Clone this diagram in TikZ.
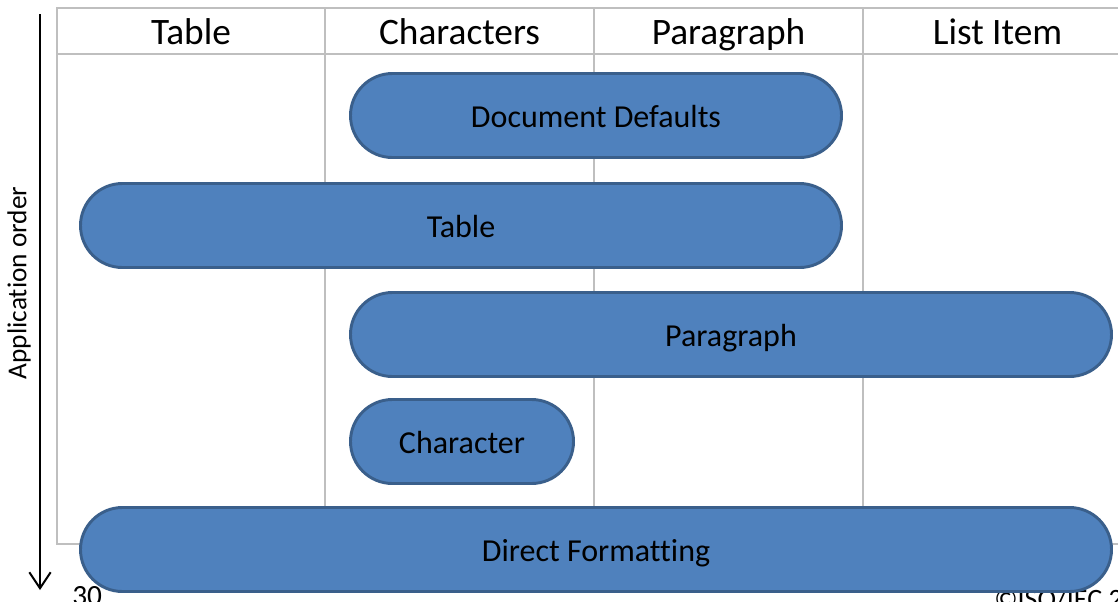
\documentclass[tikz,border=0pt]{standalone}
\usepackage{fontspec}
\setmainfont{Carlito}[Ligatures=NoCommon]
\usetikzlibrary{arrows.meta, positioning}
\definecolor{pillblue}{HTML}{4F81BD}
\definecolor{pilledge}{HTML}{3A5F8B}
\definecolor{gridgray}{HTML}{BFBFBF}

\begin{document}
\begin{tikzpicture}[x=0.75pt, y=-0.75pt,
    pill/.style={draw=pilledge, fill=pillblue, line width=2.2pt, rounded corners=31.4pt,
        minimum height=63pt, inner sep=0pt, text height=18.7pt, text depth=0pt,
        font=\fontsize{24}{28}\selectfont},
    colhead/.style={anchor=base, inner sep=0pt, font=\fontsize{28}{32}\selectfont},
    footnote/.style={anchor=base west, inner sep=0pt, font=\fontsize{21}{24}\selectfont},
    gridline/.style={gridgray, line width=1.4pt}]
    % page frame
    \useasboundingbox (0,0) rectangle (1118,601);
    \clip (0,0) rectangle (1118,601);

    % Grid
    \draw[gridline] (57,8) rectangle (1132,544);
    \draw[gridline] (57,54) -- (1132,54);
    \foreach \x in {325,594,863}
        \draw[gridline] (\x,8) -- (\x,544);

    % Column headers
    \node[colhead] (hTable) at (191,44) {Table};
    \node[colhead] (hChars) at (459.5,44) {Characters};
    \node[colhead] (hPara) at (728.5,44) {Paragraph};
    \node[colhead] (hList) at (997.5,44) {List Item};

    % Order arrow
    \coordinate (orderTop) at (40,14);
    \coordinate (orderEnd) at (40,590);
    \draw[line width=1.5pt, -{Straight Barb[length=12pt, width=16pt]}] (orderTop) -- (orderEnd);
    \node[rotate=90, inner sep=0pt, font=\fontsize{20.5}{24}\selectfont] (orderLbl) at (19,283) {Application order};

    % Footer (behind the last bar)
    \node[footnote, font=\fontsize{22}{24}\selectfont] (pageNo) at (72,605) {30};
    \node[footnote] (copyNote) at (994,608) {©ISO/IEC 2};

    % Style layers
    \node[pill, minimum width=368.25pt] (docDef) at (596,115.5) {Document Defaults};
    \node[pill, minimum width=570.75pt] (tblStyle) at (461,225.5) {Table};
    \node[pill, minimum width=570.75pt] (paraStyle) at (731,334.5) {Paragraph};
    \node[pill, minimum width=167.25pt] (charStyle) at (462,441.5) {Character};
    \node[pill, minimum width=773.25pt] (directFmt) at (596,549.5) {Direct Formatting};
\end{tikzpicture}
\end{document}
